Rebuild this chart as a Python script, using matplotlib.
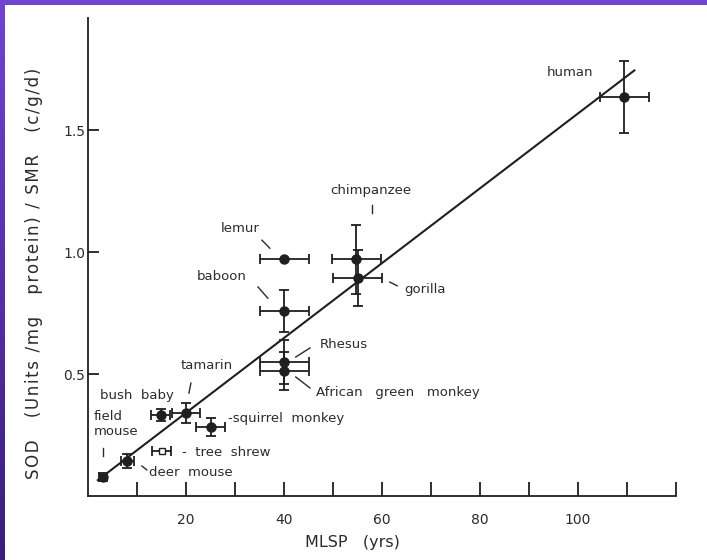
import numpy as np
import matplotlib
matplotlib.use("Agg")
import matplotlib.pyplot as plt
from matplotlib.patches import Rectangle
from matplotlib.colors import LinearSegmentedColormap

# data
species = ['field mouse', 'deer mouse', 'bush baby', 'tree shrew', 'tamarin',
           'squirrel monkey', 'lemur', 'baboon', 'Rhesus', 'African green monkey',
           'chimpanzee', 'gorilla', 'human']
mlsp = [3.0, 8.0, 14.8, 15.0, 20.0, 25.0, 40.0, 40.0, 40.0, 40.0, 54.7, 55.1, 109.4]
mlsp_err = [0.8, 1.3, 2.0, 2.0, 2.8, 3.0, 5.0, 5.0, 5.0, 5.0, 5.0, 5.0, 5.0]
sod = [0.078, 0.143, 0.332, 0.184, 0.340, 0.283, 0.971, 0.758, 0.549, 0.512,
       0.971, 0.893, 1.635]
sod_err = [0.015, 0.03, 0.025, 0.0, 0.04, 0.035, 0.0, 0.085, 0.09, 0.078,
           0.142, 0.115, 0.147]

# regression line end points
fit_x = [2.0, 111.5]
fit_y = [0.065, 1.745]

xticks = [10, 20, 30, 40, 50, 60, 70, 80, 90, 100, 110, 120]
xtick_labels = ['', '20', '', '40', '', '60', '', '80', '', '100', '', '']
yticks = [0.5, 1.0, 1.5]
ytick_labels = ['0.5', '1.0', '1.5']

ink = '#1f1f1f'
txt = '#2b2b2b'

fig = plt.figure(figsize=(7.07, 5.6), dpi=100)
ax = fig.add_axes([88 / 707, 64 / 560, 588 / 707, 478 / 560])

ax.plot(fit_x, fit_y, color=ink, lw=1.5, zorder=2)

for name, x, xe, y, ye in zip(species, mlsp, mlsp_err, sod, sod_err):
    if name == 'tree shrew':
        mfc, mk, ms = 'white', 's', 5
    else:
        mfc, mk, ms = ink, 'o', 6.5
    ax.errorbar(x, y, xerr=xe, yerr=ye if ye > 0 else None, fmt=mk,
                color=ink, mfc=mfc, mec=ink, ms=ms, elinewidth=1.3,
                capsize=3.5, capthick=1.3, zorder=3)

# labels (data coords)
fs = 9.5
def lab(s, x, y, ha='center', va='center'):
    ax.text(x, y, s, ha=ha, va=va, fontsize=fs, color=txt)

def lead(x0, y0, x1, y1):
    ax.plot([x0, x1], [y0, y1], color=txt, lw=1.0)

lab('human', 98.4, 1.738)
lab('chimpanzee', 57.8, 1.254)
lead(58.0, 1.195, 58.0, 1.162)
lab('lemur', 31.0, 1.098)
lead(35.5, 1.049, 37.1, 1.016)
lab('baboon', 27.3, 0.902)
lead(34.7, 0.857, 36.7, 0.811)
lab('gorilla', 64.6, 0.848, ha='left')
lead(61.6, 0.877, 63.1, 0.862)
lab('Rhesus', 47.3, 0.623, ha='left')
lead(42.4, 0.570, 45.3, 0.607)
lab('African   green   monkey', 46.5, 0.426, ha='left')
lead(42.4, 0.488, 45.3, 0.443)
lab('tamarin', 24.3, 0.537)
lead(21.0, 0.463, 20.6, 0.422)
lab('bush  baby', 10.0, 0.414)
lab('field\nmouse', 1.2, 0.295, ha='left')
lead(3.1, 0.197, 3.1, 0.162)
lab('-squirrel  monkey', 28.6, 0.318, ha='left')
lab('-  tree  shrew', 19.2, 0.180, ha='left')
lab('deer  mouse', 12.4, 0.098, ha='left')
lead(11.0, 0.123, 12.0, 0.107)

ax.set_xlim(0, 120)
ax.set_ylim(0, 1.96)
ax.spines['top'].set_visible(False)
ax.spines['right'].set_visible(False)
for sp in ('left', 'bottom'):
    ax.spines[sp].set_color(ink)
    ax.spines[sp].set_linewidth(1.3)

ax.set_xticks(xticks)
ax.set_xticklabels(xtick_labels)
ax.set_yticks(yticks)
ax.set_yticklabels(ytick_labels)
ax.tick_params(axis='x', direction='in', length=10, width=1.3, color=ink,
               labelsize=10, labelcolor=txt, pad=12)
ax.tick_params(axis='y', direction='in', length=8, width=1.3, color=ink,
               labelsize=10, labelcolor=txt, pad=2)

fig.text(352 / 707, 1 - 543 / 560, 'MLSP   (yrs)', ha='center', va='center',
         fontsize=11.5, color=txt)
# scanned lettering is spaced out, so put hair spaces between letters
ylab = 'SOD   (Units /mg   protein) / SMR   (c/g/d)'
ylab = '\u200a'.join(ylab)
fig.text(34 / 707, 1 - 273 / 560, ylab,
         ha='center', va='center', rotation=90, fontsize=12, color=txt)

# purple frame of the slide
fig.add_artist(Rectangle((0, 1 - 5 / 560), 1, 5 / 560, transform=fig.transFigure,
                         color='#7045d2', lw=0))
bax = fig.add_axes([0, 0, 5 / 707, 1])
grad = np.linspace(0, 1, 256).reshape(-1, 1)
cm = LinearSegmentedColormap.from_list('frame', ['#7045d2', '#3a1d7c'])
bax.imshow(grad, aspect='auto', cmap=cm)
bax.axis('off')

fig.savefig('out.png', dpi=100)
